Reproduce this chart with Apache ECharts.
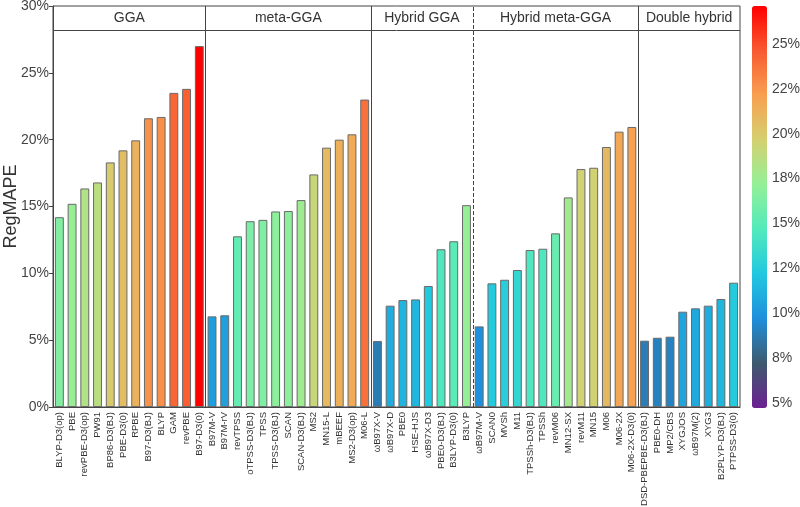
<!DOCTYPE html>
<html>
<head>
<meta charset="utf-8">
<script src="https://cdn.jsdelivr.net/npm/echarts@6/dist/echarts.min.js"></script>
<style>html,body{margin:0;padding:0;background:#fff;}#c{width:800px;height:507px;}</style>
</head>
<body>
<div id="c"></div>
<script>
// ---- data ----
var groupNames = ['GGA', 'meta-GGA', 'Hybrid GGA', 'Hybrid meta-GGA', 'Double hybrid'];
var ggaNames = ['BLYP-D3(op)', 'PBE', 'revPBE-D3(op)', 'PW91', 'BP86-D3(BJ)', 'PBE-D3(0)', 'RPBE', 'B97-D3(BJ)', 'BLYP', 'GAM', 'revPBE', 'B97-D3(0)'];
var ggaValues = [14.2, 15.2, 16.35, 16.8, 18.3, 19.2, 19.95, 21.6, 21.7, 23.5, 23.8, 27.0];
var metaNames = ['B97M-V', 'B97M-rV', 'revTPSS', 'oTPSS-D3(BJ)', 'TPSS', 'TPSS-D3(BJ)', 'SCAN', 'SCAN-D3(BJ)', 'MS2', 'MN15-L', 'mBEEF', 'MS2-D3(op)', 'M06-L'];
var metaValues = [6.78, 6.86, 12.77, 13.9, 14.0, 14.63, 14.66, 15.48, 17.4, 19.4, 20.0, 20.4, 23.0];
var hybNames = ['ωB97X-V', 'ωB97X-D', 'PBE0', 'HSE-HJS', 'ωB97X-D3', 'PBE0-D3(BJ)', 'B3LYP-D3(0)', 'B3LYP'];
var hybValues = [4.94, 7.58, 8.0, 8.05, 9.05, 11.8, 12.4, 15.1];
var hmNames = ['ωB97M-V', 'SCAN0', 'MVSh', 'M11', 'TPSSh-D3(BJ)', 'TPSSh', 'revM06', 'MN12-SX', 'revM11', 'MN15', 'M06', 'M06-2X', 'M06-2X-D3(0)'];
var hmValues = [6.03, 9.25, 9.52, 10.25, 11.74, 11.84, 12.99, 15.68, 17.8, 17.9, 19.45, 20.6, 20.95];
var dhNames = ['DSD-PBEPBE-D3(BJ)', 'PBE0-DH', 'MP2/CBS', 'XYGJOS', 'ωB97M(2)', 'XYG3', 'B2PLYP-D3(BJ)', 'PTPSS-D3(0)'];
var dhValues = [4.96, 5.18, 5.26, 7.13, 7.38, 7.58, 8.08, 9.3];
var yTicks = [0, 5, 10, 15, 20, 25, 30];
var colorbarTicks = [5, 7.5, 10, 12.5, 15, 17.5, 20, 22.5, 25];
var colorbarLabels = ['5%', '8%', '10%', '12%', '15%', '18%', '20%', '22%', '25%'];
var headerBottom = 28.2;

// ---- build ----
var groupsNames = [ggaNames, metaNames, hybNames, hmNames, dhNames];
var groupsValues = [ggaValues, metaValues, hybValues, hmValues, dhValues];
var categories = [], values = [], bounds = [0];
groupsNames.forEach(function (g, i) {
  categories = categories.concat(g);
  values = values.concat(groupsValues[i]);
  bounds.push(categories.length);
});
var N = categories.length;
var cmap = ['#6b2192', '#3e5a6e', '#1f8fdc', '#20c8e0', '#52eabc', '#94f098', '#d4d070', '#f8a050', '#f85a30', '#ff0000'];
var FONT = 'Liberation Sans, Arial, sans-serif';

var vLines = [];
for (var i = 1; i < bounds.length - 1; i++) {
  vLines.push({ xAxis: bounds[i], lineStyle: { type: i === 3 ? 'dashed' : 'solid', color: '#444', width: 1 } });
}
vLines.push({ yAxis: headerBottom, lineStyle: { type: 'solid', color: '#444', width: 1 } });
var areas = [];
for (var i = 0; i < groupNames.length; i++) {
  areas.push([{ xAxis: bounds[i], yAxis: headerBottom, name: groupNames[i] }, { xAxis: bounds[i + 1], yAxis: 30 }]);
}

var chart = echarts.init(document.getElementById('c'), null, { renderer: 'canvas' });
chart.setOption({
  animation: false,
  textStyle: { fontFamily: FONT },
  grid: [
    { left: 53, right: 60, top: 6, bottom: 100, show: true, borderColor: '#444', borderWidth: 1, backgroundColor: 'transparent', containLabel: false, outerBoundsMode: 'none' },
    { left: 752, width: 15, top: 8, height: 395, containLabel: false, outerBoundsMode: 'none' }
  ],
  xAxis: [
    { type: 'category', gridIndex: 0, data: categories, boundaryGap: true,
      axisLine: { show: true, lineStyle: { color: '#444' } }, axisTick: { show: false },
      axisLabel: { rotate: 90, fontSize: 9.5, color: '#333', margin: 5, interval: 0, fontFamily: FONT } },
    { type: 'value', gridIndex: 0, min: 0, max: N, show: false },
    { type: 'value', gridIndex: 1, min: 0, max: 1, show: false }
  ],
  yAxis: [
    { type: 'value', gridIndex: 0, min: 0, max: 30, interval: 5,
      name: 'RegMAPE', nameLocation: 'middle', nameGap: 33, nameMoveOverlap: false,
      nameTextStyle: { fontSize: 18, color: '#333', fontFamily: FONT },
      axisLine: { show: true, lineStyle: { color: '#444' } },
      axisTick: { show: true, length: 4, lineStyle: { color: '#444' } },
      splitLine: { show: false },
      axisLabel: { fontSize: 14, color: '#444', margin: 4, formatter: '{value}%', fontFamily: FONT } },
    { type: 'value', gridIndex: 1, min: 5, max: 27, interval: 2.5, position: 'right',
      axisLine: { show: false }, axisTick: { show: false }, splitLine: { show: false },
      axisLabel: { fontSize: 14, color: '#444', margin: 5, fontFamily: FONT,
        showMaxLabel: false,
        formatter: function (v) { var k = colorbarTicks.indexOf(v); return k >= 0 ? colorbarLabels[k] : ''; } } }
  ],
  visualMap: [
    { type: 'continuous', show: false, min: 0, max: 27, dimension: 1, seriesIndex: 0, inRange: { color: cmap } },
    { type: 'continuous', show: true, min: 5, max: 27, seriesIndex: 2, calculable: false, hoverLink: false,
      left: 752, top: 6, itemWidth: 15, itemHeight: 402, padding: 0, text: null, showLabel: false,
      inRange: { color: cmap } }
  ],
  series: [
    { type: 'bar', xAxisIndex: 0, yAxisIndex: 0, data: values, barWidth: '70%',
      itemStyle: { borderColor: '#6a6a6a', borderWidth: 1 } },
    { type: 'line', xAxisIndex: 1, yAxisIndex: 0, data: [], silent: true,
      markLine: { symbol: ['none', 'none'], silent: true, label: { show: false }, data: vLines },
      markArea: { silent: true, itemStyle: { color: 'rgba(0,0,0,0)' },
        label: { show: true, position: 'inside', fontSize: 14, color: '#333', fontFamily: FONT }, data: areas } },
    { type: 'scatter', xAxisIndex: 2, yAxisIndex: 1, data: [] }
  ]
});
</script>
</body>
</html>
